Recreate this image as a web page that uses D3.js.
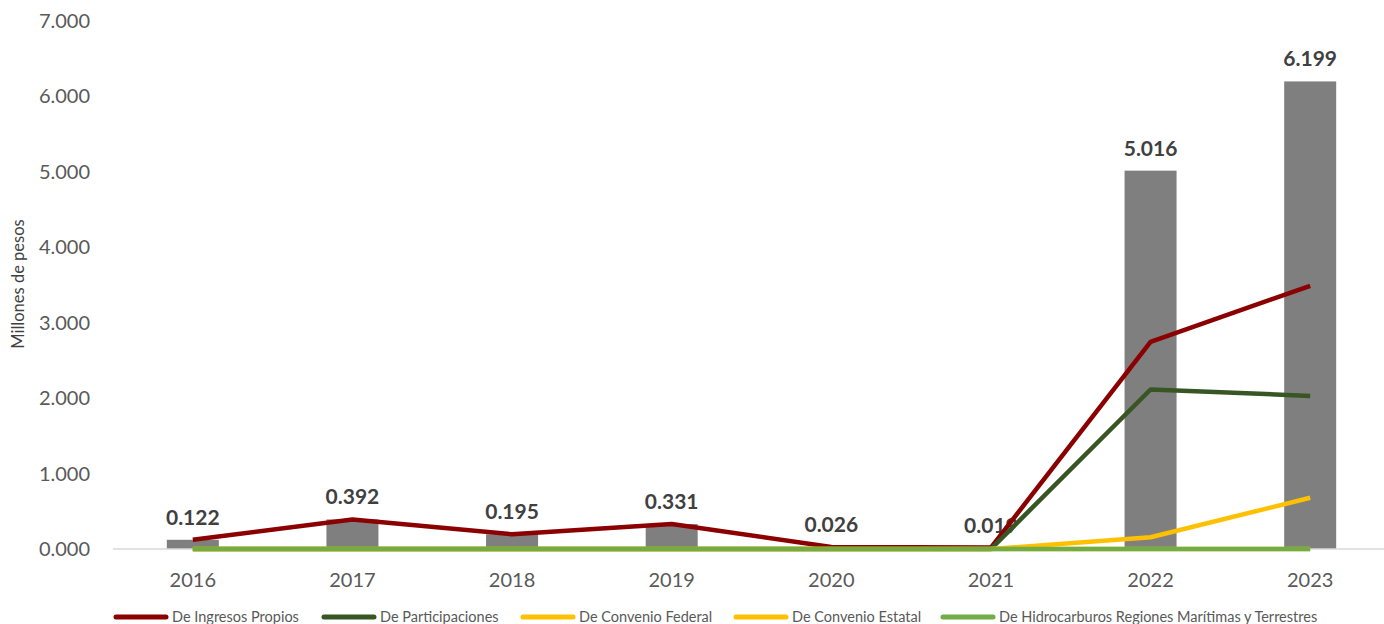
<!DOCTYPE html>
<html>
<head>
<meta charset="utf-8">
<script src="https://cdn.jsdelivr.net/npm/d3@7"></script>
<style>
  body { margin: 0; background: #fff; }
  svg { display: block; font-family: Lato, "Open Sans", sans-serif; }
</style>
</head>
<body>
<svg id="chart" width="1384" height="624"></svg>
<script>
const years = ["2016", "2017", "2018", "2019", "2020", "2021", "2022", "2023"];
const totals = [0.122, 0.392, 0.195, 0.331, 0.026, 0.019, 5.016, 6.199];
const propios = [0.122, 0.392, 0.195, 0.331, 0.026, 0.019, 2.745, 3.49];
const participaciones = [0, 0, 0, 0, 0, 0, 2.115, 2.03];
const convenioFederal = [0, 0, 0, 0, 0, 0, 0.156, 0.679];
const convenioEstatal = [0, 0, 0, 0, 0, 0, 0, 0];
const hidrocarburos = [0, 0, 0, 0, 0, 0, 0, 0];
const yTicks = [0, 1, 2, 3, 4, 5, 6, 7];

const series = [
    {name: "De Ingresos Propios", values: propios, color: "#8B0000"},
    {name: "De Participaciones", values: participaciones, color: "#375623"},
    {name: "De Convenio Federal", values: convenioFederal, color: "#FFC000"},
    {name: "De Convenio Estatal", values: convenioEstatal, color: "#FFC000"},
    {name: "De Hidrocarburos Regiones Marítimas y Terrestres", values: hidrocarburos, color: "#70AD47"},
];

const svg = d3.select("#chart");
const plotLeft = 113, plotRight = 1390, plotTop = 21, plotBottom = 549;

const x = d3.scaleBand().domain(years).range([plotLeft, plotRight]);
const y = d3.scaleLinear().domain([0, 7]).range([plotBottom, plotTop]);
const fmt = d3.format(".3f");

// y tick labels
svg.append("g")
    .selectAll("text")
    .data(yTicks)
    .enter().append("text")
    .attr("x", 90)
    .attr("y", d => y(d))
    .attr("dy", "0.35em")
    .attr("text-anchor", "end")
    .attr("font-size", 20)
    .attr("fill", "#595959")
    .text(d => fmt(d));

// axis title
svg.append("text")
    .attr("transform", "translate(24,284) rotate(-90)")
    .attr("text-anchor", "middle")
    .attr("font-size", 16.5)
    .attr("fill", "#404040")
    .text("Millones de pesos");

// bars
const barW = 52;
svg.append("g")
    .selectAll("rect")
    .data(totals)
    .enter().append("rect")
    .attr("x", (d, i) => x(years[i]) + x.bandwidth() / 2 - barW / 2)
    .attr("y", d => y(d))
    .attr("width", barW)
    .attr("height", d => y(0) - y(d))
    .attr("fill", "#7F7F7F");

// x axis line
svg.append("line")
    .attr("x1", plotLeft).attr("x2", 1384)
    .attr("y1", y(0)).attr("y2", y(0))
    .attr("stroke", "#D9D9D9")
    .attr("stroke-width", 1.5);

// x tick labels
svg.append("g")
    .selectAll("text")
    .data(years)
    .enter().append("text")
    .attr("x", d => x(d) + x.bandwidth() / 2)
    .attr("y", 587)
    .attr("text-anchor", "middle")
    .attr("font-size", 20)
    .attr("fill", "#595959")
    .text(d => d);

// bar labels
svg.append("g")
    .selectAll("text")
    .data(totals)
    .enter().append("text")
    .attr("x", (d, i) => x(years[i]) + x.bandwidth() / 2)
    .attr("y", d => y(d) - 15)
    .attr("text-anchor", "middle")
    .attr("font-size", 21)
    .attr("font-weight", "bold")
    .attr("fill", "#404040")
    .text(d => fmt(d));

// lines
const line = d3.line()
    .x((d, i) => x(years[i]) + x.bandwidth() / 2)
    .y(d => y(d));

svg.append("g")
    .selectAll("path")
    .data(series)
    .enter().append("path")
    .attr("d", d => line(d.values))
    .attr("fill", "none")
    .attr("stroke", d => d.color)
    .attr("stroke-width", 4.5)
    .attr("stroke-linejoin", "round");

// legend
const legendX = [114, 322, 521, 734, 941];
const legend = svg.append("g")
    .selectAll("g")
    .data(series)
    .enter().append("g")
    .attr("transform", (d, i) => `translate(${legendX[i]},617)`);

legend.append("line")
    .attr("x1", 2).attr("x2", 52)
    .attr("y1", 0).attr("y2", 0)
    .attr("stroke", d => d.color)
    .attr("stroke-width", 5)
    .attr("stroke-linecap", "round");

legend.append("text")
    .attr("x", 58)
    .attr("y", 0)
    .attr("dy", "0.35em")
    .attr("font-size", 14.5)
    .attr("fill", "#595959")
    .text(d => d.name);
</script>
</body>
</html>
